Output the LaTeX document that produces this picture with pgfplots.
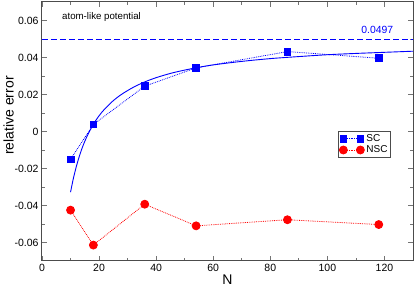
\documentclass[border=0pt]{standalone}
\usepackage{fontspec}
\setmainfont{Liberation Sans}
\usepackage{pgfplots}
\pgfplotsset{compat=1.18}
\definecolor{pureblue}{RGB}{0,0,255}
\definecolor{purered}{RGB}{255,0,0}
\begin{document}
\begin{tikzpicture}
\begin{axis}[
  scale only axis,
  width=371pt, height=259pt,
  xmin=0, xmax=130, ymin=-0.07, ymax=0.07,
  xtick={0,20,40,60,80,100,120},
  minor xtick={10,30,50,70,90,110,130},
  ytick={-0.06,-0.04,-0.02,0,0.02,0.04,0.06},
  yticklabels={-0.06,-0.04,-0.02,0,0.02,0.04,0.06},
  minor ytick={-0.05,-0.03,-0.01,0.01,0.03,0.05},
  tick align=inside,
  major tick length=5pt, minor tick length=3pt,
  every tick/.style={black!55, line width=0.8pt},
  axis line style={black!70, line width=1pt},
  /pgf/number format/assume math mode=true,
  tick label style={font=\fontsize{10.5}{12}\selectfont},
  xlabel={N}, ylabel={relative error},
  label style={font=\fontsize{14}{16}\selectfont},
  xlabel style={yshift=4pt},
  ylabel style={yshift=-6pt, xshift=16pt},
  legend style={at={(rel axis cs:0.798,0.502)}, anchor=north west,
    font=\fontsize{10}{11}\selectfont, draw=black!70, line width=0.6pt,
    inner sep=1pt, row sep=-1pt, cells={anchor=west}},
  legend image code/.code={\draw[mark repeat=2,mark phase=1] plot coordinates {(0pt,0pt) (8.5pt,0pt) (17pt,0pt)};},
]
\addplot[pureblue, line width=0.9pt, smooth, forget plot] coordinates {
(10,-0.0328) (11,-0.0253) (12,-0.0191) (13,-0.0138) (14,-0.0092) (15,-0.0053)
(16,-0.0019) (18,0.0039) (20,0.0085) (22,0.0122) (25,0.0167) (28,0.0202)
(32,0.0239) (36,0.0268) (40,0.0291) (45,0.0314) (50,0.0332) (55,0.0347)
(60,0.0360) (70,0.0379) (80,0.0394) (90,0.0405) (100,0.0415) (110,0.0422)
(120,0.0428) (130,0.0434)};
\addplot[pureblue, line width=1.6pt, dash pattern=on 6pt off 3pt, forget plot] coordinates {(0,0.0497) (130,0.0497)};
\addplot[pureblue, densely dotted, line width=0.8pt, mark=square*, mark size=3.4pt, mark options={solid}] coordinates {
(10,-0.0151) (18,0.0038) (36,0.0245) (54,0.0344) (86,0.0432) (118,0.0396)};
\addlegendentry{SC}
\addplot[purered, densely dotted, line width=0.8pt, mark=*, mark size=4pt, mark options={solid}] coordinates {
(10,-0.0425) (18,-0.0614) (36,-0.0393) (54,-0.0510) (86,-0.0477) (118,-0.0503)};
\addlegendentry{NSC}
\node[anchor=west, font=\fontsize{9.7}{11}\selectfont, inner sep=0pt] at (axis cs:7,0.0619) {atom-like potential};
\node[font=\fontsize{10.4}{12}\selectfont, text=pureblue, inner sep=0pt] at (axis cs:117.5,0.0551) {0.0497};
\end{axis}
\pgfresetboundingbox
\path[use as bounding box] ([xshift=-42pt,yshift=-27pt]current axis.south west) rectangle ([xshift=2pt,yshift=2pt]current axis.north east);
\end{tikzpicture}
\end{document}
